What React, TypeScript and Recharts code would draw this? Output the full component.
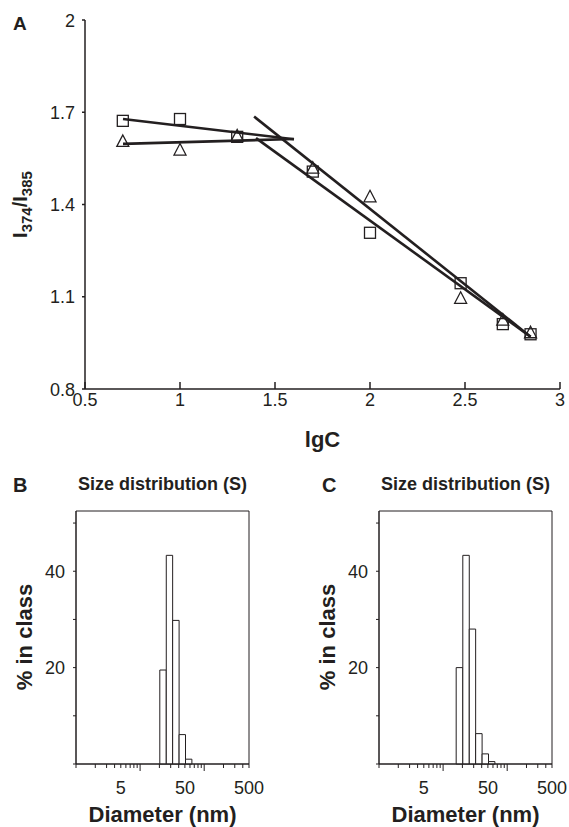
import React from 'react';
import { ComposedChart, Line, Scatter, XAxis, YAxis, ReferenceArea } from 'recharts';

const FONT = '"Liberation Sans", Arial, Helvetica, sans-serif';
const INK = '#231f20';

// ---- Panel A data ----
const lgC = [0.699, 1.0, 1.301, 1.699, 2.0, 2.477, 2.699, 2.845];
const ratioSquares = [1.672, 1.678, 1.62, 1.507, 1.308, 1.144, 1.011, 0.978];
const ratioTriangles = [1.605, 1.577, 1.623, 1.518, 1.425, 1.095, 1.024, 0.983];

const fitFlatSquaresX = [0.7, 1.6];
const fitFlatSquaresY = [1.678, 1.612];
const fitFlatTrianglesX = [0.7, 1.6];
const fitFlatTrianglesY = [1.597, 1.613];
const fitSteepTrianglesX = [1.39, 2.845];
const fitSteepTrianglesY = [1.686, 0.97];
const fitSteepSquaresX = [1.4, 2.845];
const fitSteepSquaresY = [1.616, 0.97];

const xTicksA = [0.5, 1, 1.5, 2, 2.5, 3];
const yTicksA = [0.8, 1.1, 1.4, 1.7, 2];

// ---- Panels B / C data ----
const binEdges = [16.0, 20.3, 25.6, 32.2, 40.6, 51.1, 64.3];
const percentB = [0, 19.5, 43.3, 29.8, 6.1, 1.0];
const percentC = [20.0, 43.3, 28.0, 6.3, 2.1, 0.5];
const diameterTicks = [1, 2, 3, 4, 5, 6, 7, 8, 9, 10, 20, 30, 40, 50, 60, 70, 80, 90, 100, 200, 300, 400, 500];
const diameterLabels = [5, 50, 500];
const diameterMajor = [10, 100];
const percentTicks = [0, 10, 20, 30, 40, 50];
const percentLabels = [20, 40];

const zip = (xs: number[], ys: number[]) => xs.map((x, i) => ({ x, y: ys[i] }));

const squares = zip(lgC, ratioSquares);
const triangles = zip(lgC, ratioTriangles);

const TICK_FS = 18;

const SquareShape = (p: any) => (
  <rect x={p.cx - 5.5} y={p.cy - 5.5} width={11} height={11} fill="none" stroke={INK} strokeWidth={1.3} />
);
const TriangleShape = (p: any) => (
  <path
    d={`M${p.cx},${p.cy - 6.5} L${p.cx + 6},${p.cy + 5} L${p.cx - 6},${p.cy + 5} Z`}
    fill="none"
    stroke={INK}
    strokeWidth={1.3}
  />
);

const BottomTick = (p: any) => (
  <text x={p.x} y={p.y + 13} textAnchor="middle" fontSize={TICK_FS} fill={INK} fontFamily={FONT}>
    {p.payload.value}
  </text>
);
const LeftTick = (p: any) => {
  const v = p.payload.value;
  const s = p.tickFormatter ? p.tickFormatter(v) : String(v);
  if (!s) return <g />;
  return (
    <text x={p.x} y={p.y + 6.5} textAnchor="end" fontSize={TICK_FS} fill={INK} fontFamily={FONT}>
      {s}
    </text>
  );
};

function PanelA() {
  const lineProps = { type: 'linear' as const, dataKey: 'y', stroke: INK, strokeWidth: 2.6, dot: false, activeDot: false, isAnimationActive: false };
  return (
    <div style={{ position: 'absolute', left: 0, top: 0 }}>
      <ComposedChart width={569} height={460} margin={{ top: 20, right: 9, bottom: 41, left: 25 }}>
        <XAxis
          type="number"
          dataKey="x"
          domain={[0.5, 3]}
          ticks={xTicksA}
          interval={0}
          allowDataOverflow
          height={30}
          axisLine={{ stroke: INK, strokeWidth: 1.5 }}
          tickLine={{ stroke: INK, strokeWidth: 1.5 }}
          tickSize={-7}
          tickMargin={11}
          tick={<BottomTick />}
        />
        <YAxis
          type="number"
          dataKey="y"
          domain={[0.8, 2]}
          ticks={yTicksA}
          interval={0}
          allowDataOverflow
          width={60}
          axisLine={{ stroke: INK, strokeWidth: 1.5 }}
          tickLine={{ stroke: INK, strokeWidth: 1.5 }}
          tickSize={3}
          tickMargin={7}
          tick={<LeftTick />}
        />
        <Scatter data={squares} shape={SquareShape} isAnimationActive={false} />
        <Scatter data={triangles} shape={TriangleShape} isAnimationActive={false} />
        <Line data={zip(fitFlatSquaresX, fitFlatSquaresY)} {...lineProps} />
        <Line data={zip(fitFlatTrianglesX, fitFlatTrianglesY)} {...lineProps} />
        <Line data={zip(fitSteepTrianglesX, fitSteepTrianglesY)} {...lineProps} />
        <Line data={zip(fitSteepSquaresX, fitSteepSquaresY)} {...lineProps} />
      </ComposedChart>
    </div>
  );
}

function DiameterTick(props: any) {
  const { x, y, payload } = props;
  const v = payload.value;
  const len = diameterMajor.includes(v) ? 7 : 4;
  return (
    <g>
      <line x1={x} x2={x} y1={y} y2={y + len} stroke={INK} strokeWidth={1} />
      {diameterLabels.includes(v) && (
        <text x={x} y={y + 30} textAnchor="middle" fontSize={TICK_FS} fill={INK} fontFamily={FONT}>
          {v}
        </text>
      )}
    </g>
  );
}

const pctFormat = (v: number) => (percentLabels.includes(v) ? String(v) : '');

function HistPanel({ left, percents }: { left: number; percents: number[] }) {
  const bins = percents
    .map((v, i) => ({ x1: binEdges[i], x2: binEdges[i + 1], d: Math.sqrt(binEdges[i] * binEdges[i + 1]), v }))
    .filter((b) => b.v > 0);
  return (
    <div style={{ position: 'absolute', left, top: 470 }}>
      <ComposedChart data={bins} width={266} height={357} margin={{ top: 41, right: 17, bottom: 33, left: 36 }}>
        <XAxis
          type="number"
          dataKey="d"
          scale="log"
          domain={[1, 500]}
          ticks={diameterTicks}
          interval={0}
          allowDataOverflow
          height={30}
          axisLine={{ stroke: INK, strokeWidth: 1 }}
          tickLine={false}
          tickSize={0}
          tickMargin={0}
          tick={<DiameterTick />}
        />
        <YAxis
          type="number"
          dataKey="v"
          domain={[0, 52.5]}
          ticks={percentTicks}
          interval={0}
          allowDataOverflow
          width={40}
          axisLine={{ stroke: INK, strokeWidth: 1 }}
          tickLine={{ stroke: INK, strokeWidth: 1 }}
          tickSize={3}
          tickMargin={8}
          tickFormatter={pctFormat}
          tick={<LeftTick tickFormatter={pctFormat} />}
        />
        <ReferenceArea x1={1} x2={500} y1={0} y2={52.5} fill="none" fillOpacity={0} stroke={INK} strokeWidth={1} ifOverflow="visible" />
        {bins.map((b, i) => (
          <ReferenceArea
            key={i}
            x1={b.x1}
            x2={b.x2}
            y1={0}
            y2={b.v}
            fill="#ffffff"
            fillOpacity={1}
            stroke={INK}
            strokeWidth={1}
            ifOverflow="visible"
          />
        ))}
      </ComposedChart>
    </div>
  );
}

function Overlay() {
  const bold = { fontFamily: FONT, fontWeight: 700, fill: INK } as const;
  return (
    <svg width={569} height={827} style={{ position: 'absolute', left: 0, top: 0, pointerEvents: 'none' }}>
      <text x={13} y={30} fontSize={19} {...bold}>A</text>
      <text transform="translate(27, 204.5) rotate(-90)" textAnchor="middle" fontSize={20} {...bold}>
        I<tspan fontSize={15} dy={5}>374</tspan>
        <tspan dy={-5}>/I</tspan>
        <tspan fontSize={15} dy={5}>385</tspan>
      </text>
      <text x={322.5} y={447} textAnchor="middle" fontSize={22} {...bold}>lgC</text>

      <text x={13} y={492} fontSize={20} {...bold}>B</text>
      <text x={162.5} y={490} textAnchor="middle" fontSize={18} {...bold}>Size distribution (S)</text>
      <text transform="translate(31.5, 637) rotate(-90)" textAnchor="middle" fontSize={22} {...bold}>% in class</text>
      <text x={162.5} y={822} textAnchor="middle" fontSize={22} {...bold}>Diameter (nm)</text>

      <text x={322} y={492} fontSize={20} {...bold}>C</text>
      <text x={465.5} y={490} textAnchor="middle" fontSize={18} {...bold}>Size distribution (S)</text>
      <text transform="translate(334.5, 637) rotate(-90)" textAnchor="middle" fontSize={22} {...bold}>% in class</text>
      <text x={465.5} y={822} textAnchor="middle" fontSize={22} {...bold}>Diameter (nm)</text>
    </svg>
  );
}

export default function App() {
  return (
    <div style={{ position: 'absolute', left: 0, top: 0, width: 569, height: 827, background: '#fff', overflow: 'hidden' }}>
      <PanelA />
      <HistPanel left={0} percents={percentB} />
      <HistPanel left={303} percents={percentC} />
      <Overlay />
    </div>
  );
}
